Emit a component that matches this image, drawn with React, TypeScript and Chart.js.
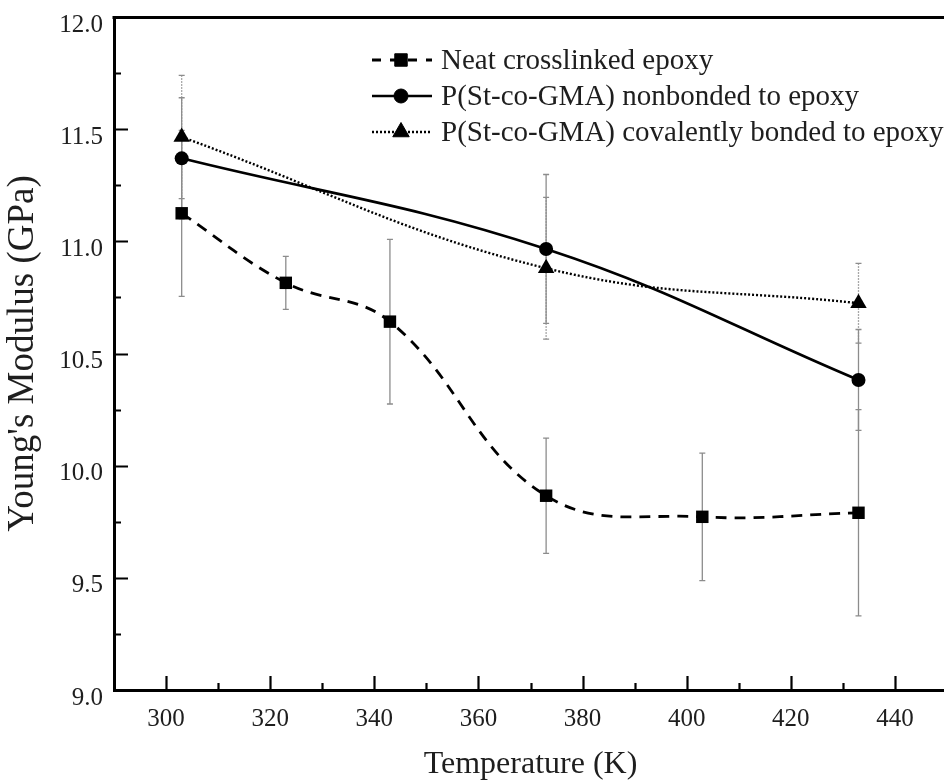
import React, { useEffect, useRef } from 'react';
import { Chart, registerables } from 'chart.js';
import { drawPoint } from 'chart.js/helpers';

Chart.register(...registerables);

// ---- data ----
const temperaturesNeat = [303, 323, 343, 373, 403, 433];
const modulusNeat = [11.125, 10.815, 10.642, 9.866, 9.772, 9.79];
const errorNeat = [0.37, 0.118, 0.367, 0.257, 0.284, 0.46];

const temperaturesCopolymer = [303, 373, 433];
const modulusNonbonded = [11.37, 10.966, 10.382];
const errorNonbonded = [0.27, 0.332, 0.225];
const modulusBonded = [11.465, 10.88, 10.724];
const errorBonded = [0.275, 0.316, 0.178];

const seriesLabels = [
  'Neat crosslinked epoxy',
  'P(St-co-GMA) nonbonded to epoxy',
  'P(St-co-GMA) covalently bonded to epoxy',
];
const xTickLabels = [300, 320, 340, 360, 380, 400, 420, 440];
const yTickLabels = [9.0, 9.5, 10.0, 10.5, 11.0, 11.5, 12.0];
const xAxisTitle = 'Temperature (K)';
const yAxisTitle = "Young's Modulus (GPa)";

const FONT = "'Liberation Serif', 'Times New Roman', serif";
const TEXT = '#1e1e1e';

const isMajorY = (v: number) => yTickLabels.some((t) => Math.abs(t - v) < 1e-6);
const isMajorX = (v: number) => xTickLabels.some((t) => Math.abs(t - v) < 1e-6);

const errorBarPlugin = {
  id: 'errorBars',
  beforeDatasetsDraw(chart: any) {
    const { ctx } = chart;
    const xs = chart.scales.x;
    const ys = chart.scales.y;
    chart.data.datasets.forEach((ds: any) => {
      const errs: number[] = ds.errors;
      if (!errs) return;
      ctx.save();
      ctx.strokeStyle = '#8c8c8c';
      ctx.lineWidth = 1.3;
      ds.data.forEach((p: any, j: number) => {
        const px = xs.getPixelForValue(p.x);
        const top = ys.getPixelForValue(p.y + errs[j]);
        const bot = ys.getPixelForValue(p.y - errs[j]);
        ctx.setLineDash(ds.errorDash || []);
        ctx.beginPath();
        ctx.moveTo(px, top);
        ctx.lineTo(px, bot);
        ctx.stroke();
        ctx.setLineDash([]);
        ctx.beginPath();
        ctx.moveTo(px - 3, top);
        ctx.lineTo(px + 3, top);
        ctx.moveTo(px - 3, bot);
        ctx.lineTo(px + 3, bot);
        ctx.stroke();
      });
      ctx.restore();
    });
  },
};

const frameAndTicksPlugin = {
  id: 'frameTicks',
  afterDatasetsDraw(chart: any) {
    const { ctx, chartArea } = chart;
    const xs = chart.scales.x;
    const ys = chart.scales.y;
    ctx.save();
    ctx.strokeStyle = '#000';
    ctx.lineWidth = 2.2;
    ctx.setLineDash([]);
    ctx.beginPath();
    xs.ticks.forEach((t: any) => {
      const v = t.value;
      if (v <= xs.min || v >= xs.max) return;
      const px = Math.round(xs.getPixelForValue(v)) + 0.5;
      const len = isMajorX(v) ? 14 : 7;
      ctx.moveTo(px, chartArea.bottom);
      ctx.lineTo(px, chartArea.bottom - len);
    });
    ys.ticks.forEach((t: any) => {
      const v = t.value;
      if (v <= ys.min || v >= ys.max) return;
      const py = Math.round(ys.getPixelForValue(v)) + 0.5;
      const len = isMajorY(v) ? 14 : 7;
      ctx.moveTo(chartArea.left, py);
      ctx.lineTo(chartArea.left + len, py);
    });
    ctx.stroke();
    ctx.lineWidth = 3;
    ctx.beginPath();
    ctx.moveTo(chartArea.left - 1.5, chartArea.top + 0.5);
    ctx.lineTo(chartArea.right + 2, chartArea.top + 0.5);
    ctx.stroke();
    ctx.restore();
  },
};

const legendPlugin = {
  id: 'insetLegend',
  afterDraw(chart: any) {
    const { ctx } = chart;
    ctx.save();
    chart.data.datasets.forEach((ds: any, i: number) => {
      const y = 60 + 36 * i;
      ctx.strokeStyle = '#000';
      ctx.lineWidth = ds.borderWidth;
      ctx.setLineDash(ds.legendDash || ds.borderDash || []);
      ctx.lineDashOffset = 0;
      ctx.beginPath();
      ctx.moveTo(372, y);
      ctx.lineTo(432, y);
      ctx.stroke();
      ctx.setLineDash([]);
      ctx.fillStyle = '#000';
      ctx.lineWidth = 1;
      drawPoint(ctx, { pointStyle: ds.pointStyle, radius: ds.pointRadius, rotation: 0, borderWidth: 1 } as any, 401, y);
      ctx.fillStyle = TEXT;
      ctx.font = `29px ${FONT}`;
      ctx.textAlign = 'left';
      ctx.textBaseline = 'middle';
      ctx.fillText(ds.label, 441, y + 1);
    });
    ctx.restore();
  },
};

export default function App() {
  const canvasRef = useRef<HTMLCanvasElement | null>(null);

  useEffect(() => {
    document.body.style.margin = '0';
    const canvas = canvasRef.current;
    if (!canvas) return;

    const chart = new Chart(canvas, {
      type: 'scatter',
      data: {
        datasets: [
          {
            label: seriesLabels[0],
            data: temperaturesNeat.map((t, i) => ({ x: t, y: modulusNeat[i] })),
            errors: errorNeat,
            showLine: true,
            borderColor: '#000',
            borderWidth: 2.8,
            borderDash: [11, 8],
            legendDash: [9, 9],
            tension: 0.4,
            pointStyle: 'rect',
            pointRadius: 8.8,
            pointBackgroundColor: '#000',
            pointBorderColor: '#000',
            pointBorderWidth: 0,
          } as any,
          {
            label: seriesLabels[1],
            data: temperaturesCopolymer.map((t, i) => ({ x: t, y: modulusNonbonded[i] })),
            errors: errorNonbonded,
            showLine: true,
            borderColor: '#000',
            borderWidth: 2.6,
            tension: 0.4,
            pointStyle: 'circle',
            pointRadius: 7,
            pointBackgroundColor: '#000',
            pointBorderColor: '#000',
            pointBorderWidth: 0,
          } as any,
          {
            label: seriesLabels[2],
            data: temperaturesCopolymer.map((t, i) => ({ x: t, y: modulusBonded[i] })),
            errors: errorBonded,
            errorDash: [1.5, 1.5],
            showLine: true,
            borderColor: '#000',
            borderWidth: 2.4,
            borderDash: [2, 2],
            tension: 0.4,
            pointStyle: 'triangle',
            pointRadius: 9.5,
            pointBackgroundColor: '#000',
            pointBorderColor: '#000',
            pointBorderWidth: 0,
          } as any,
        ],
      },
      options: {
        responsive: false,
        animation: false,
        events: [],
        layout: { padding: { top: 17, right: 13, left: 0, bottom: 0 } },
        plugins: {
          legend: { display: false },
          tooltip: { enabled: false },
        },
        scales: {
          x: {
            type: 'linear',
            min: 290,
            max: 450,
            afterFit: (axis: any) => {
              axis.height = 94;
              axis.paddingLeft = 0;
              axis.paddingRight = 0;
            },
            grid: { display: false, drawTicks: false },
            border: { display: true, color: '#000', width: 3 },
            ticks: {
              stepSize: 10,
              autoSkip: false,
              maxRotation: 0,
              padding: 14,
              color: TEXT,
              font: { family: FONT, size: 25 },
              callback: (v: any) => (isMajorX(Number(v)) ? String(v) : ''),
            },
            title: {
              display: true,
              text: xAxisTitle,
              color: TEXT,
              font: { family: FONT, size: 32 },
              padding: { top: 0, bottom: 0 },
            },
          },
          y: {
            type: 'linear',
            min: 9,
            max: 12,
            afterFit: (axis: any) => {
              axis.width = 114;
              axis.paddingTop = 0;
              axis.paddingBottom = 0;
            },
            grid: { display: false, drawTicks: false },
            border: { display: true, color: '#000', width: 3 },
            ticks: {
              stepSize: 0.25,
              autoSkip: false,
              padding: 11,
              labelOffset: 8,
              color: TEXT,
              font: { family: FONT, size: 25 },
              callback: (v: any) => (isMajorY(Number(v)) ? Number(v).toFixed(1) : ''),
            },
            title: {
              display: true,
              text: yAxisTitle,
              color: TEXT,
              font: { family: FONT, size: 37 },
              padding: { top: 1, bottom: 0 },
            },
          },
        },
      } as any,
      plugins: [errorBarPlugin, frameAndTicksPlugin, legendPlugin],
    });

    return () => chart.destroy();
  }, []);

  return (
    <div style={{ position: 'absolute', left: 0, top: 0, width: 944, height: 784, overflow: 'hidden', background: '#fff' }}>
      <canvas ref={canvasRef} width={960} height={784} style={{ display: 'block', width: 960, height: 784 }} />
    </div>
  );
}
